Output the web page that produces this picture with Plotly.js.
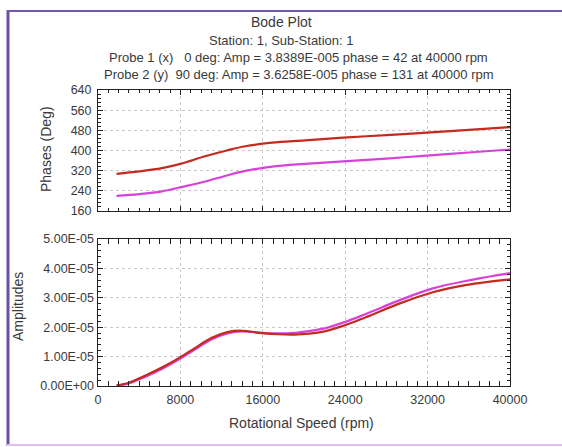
<!DOCTYPE html>
<html><head><meta charset="utf-8">
<script src="https://cdn.plot.ly/plotly-3.0.1.min.js"></script>
<style>html,body{margin:0;padding:0;background:#fff}#chart{width:562px;height:447px}</style>
</head><body><div id="chart"></div>
<script>
// Phase data (top panel)
const rpmPhase = [1800, 4000, 6200, 8000, 10400, 12500, 14300, 16900, 20100, 23800, 28000, 31900, 36000, 40000];
const phaseProbe1 = [220, 227, 238, 254, 277, 301, 319, 336, 347, 357, 368, 380, 392, 404];
const phaseProbe2 = [307, 317, 330, 347, 377, 400, 417, 431, 440, 451, 461, 471, 482, 493];
// Amplitude data (bottom panel)
const rpmAmp = [1800, 3000, 4560, 6200, 7800, 9400, 11000, 12650, 13950, 15900, 17500, 19100, 20500, 22000, 24000, 26000, 29300, 32500, 35800, 40000];
const ampProbe1 = [0.0e-5, 0.09e-5, 0.31e-5, 0.58e-5, 0.89e-5, 1.24e-5, 1.58e-5, 1.80e-5, 1.86e-5, 1.81e-5, 1.79e-5, 1.81e-5, 1.87e-5, 1.96e-5, 2.18e-5, 2.45e-5, 2.92e-5, 3.32e-5, 3.58e-5, 3.84e-5];
const ampProbe2 = [0.02e-5, 0.11e-5, 0.35e-5, 0.63e-5, 0.94e-5, 1.29e-5, 1.63e-5, 1.84e-5, 1.88e-5, 1.80e-5, 1.76e-5, 1.75e-5, 1.78e-5, 1.86e-5, 2.07e-5, 2.34e-5, 2.81e-5, 3.19e-5, 3.44e-5, 3.63e-5];
// Tick labels
const ampTicks = [0, 1e-5, 2e-5, 3e-5, 4e-5, 5e-5];
const ampTickText = ['0.00E+00', '1.00E-05', '2.00E-05', '3.00E-05', '4.00E-05', '5.00E-05'];
const titleLines = ['Bode Plot', 'Station: 1, Sub-Station: 1',
  'Probe 1 (x)   0 deg: Amp = 3.8389E-005 phase = 42 at 40000 rpm',
  'Probe 2 (y)  90 deg: Amp = 3.6258E-005 phase = 131 at 40000 rpm'];
const yTitles = ['Phases (Deg)', 'Amplitudes'];
const xTitle = 'Rotational Speed (rpm)';

const W = 562, H = 447;
const px = v => v / W, py = v => 1 - v / H;
const red = '#c42a1e', mag = '#d940d9';
const FONT = 'Liberation Sans, Arial, sans-serif';
const TXT = '#3a3a3a';

const ln = c => ({color: c, width: 2.2, shape: 'spline', smoothing: 1});
const traces = [
  {x: rpmPhase, y: phaseProbe2, xaxis: 'x', yaxis: 'y', mode: 'lines', line: ln(red)},
  {x: rpmPhase, y: phaseProbe1, xaxis: 'x', yaxis: 'y', mode: 'lines', line: ln(mag)},
  {x: rpmAmp, y: ampProbe1, xaxis: 'x2', yaxis: 'y2', mode: 'lines', line: ln(mag)},
  {x: rpmAmp, y: ampProbe2, xaxis: 'x2', yaxis: 'y2', mode: 'lines', line: ln(red)},
  // invisible carrier so the label-only amplitude axis is drawn
  {x: rpmAmp, y: ampProbe1, xaxis: 'x2', yaxis: 'y3', mode: 'lines', line: {color: 'rgba(0,0,0,0)', width: 0}, hoverinfo: 'skip'}
];

const TICKF = {family: FONT, size: 12.5, color: TXT};
const minorT = d => ({ticks: 'inside', ticklen: 3, dtick: d, tickcolor: '#222', tickwidth: 1, showgrid: false});
const axisBase = {
  showline: true, linecolor: '#222', linewidth: 1, mirror: 'allticks',
  ticks: 'inside', ticklen: 5, tickcolor: '#222', tickmode: 'linear',
  showgrid: true, gridcolor: '#c8c8c8', griddash: 'dot', gridwidth: 1,
  zeroline: false, tickfont: TICKF
};
const xDom = [px(98), px(510)];
const yDom1 = [py(211), py(90)], yDom2 = [py(386), py(239)];
const ann = (text, x, y, size, angle) => ({text: text, x: px(x), y: py(y), xref: 'paper', yref: 'paper',
  xanchor: 'center', yanchor: 'middle', showarrow: false, textangle: angle || 0, font: {family: FONT, size: size, color: TXT}});
const layout = {
  width: W, height: H, margin: {l: 0, r: 0, t: 0, b: 0},
  paper_bgcolor: '#fff', plot_bgcolor: 'rgba(0,0,0,0)', showlegend: false,
  font: {family: FONT, color: TXT},
  xaxis: Object.assign({}, axisBase, {domain: xDom, anchor: 'y', range: [0, 40000], tick0: 0, dtick: 8000, showticklabels: false, minor: minorT(1000)}),
  yaxis: Object.assign({}, axisBase, {domain: yDom1, anchor: 'x', range: [160, 640], tick0: 160, dtick: 80, ticklabelstandoff: 3, minor: minorT(16)}),
  xaxis2: Object.assign({}, axisBase, {domain: xDom, anchor: 'y2', range: [0, 40000], tick0: 0, dtick: 8000, tickformat: 'd', ticklabelstandoff: 2, minor: minorT(1000)}),
  yaxis2: Object.assign({}, axisBase, {domain: yDom2, anchor: 'x2', range: [0, 5e-5], tick0: 0, dtick: 1e-5, showticklabels: false, minor: minorT(0.2e-5)}),
  // label-only axis for the scientific-format amplitude ticks
  yaxis3: {domain: yDom2, anchor: 'x2', overlaying: 'y2', side: 'left', range: [0, 5e-5], tickmode: 'array', tickvals: ampTicks, ticktext: ampTickText,
    ticks: '', showgrid: false, showline: false, zeroline: false, ticklabelstandoff: 3, tickfont: TICKF},
  annotations: [
    ann(titleLines[0], 281, 22, 14),
    ann(titleLines[1], 281, 40, 13),
    ann(titleLines[2], 298, 57, 13),
    ann(titleLines[3], 299, 74, 13),
    ann(yTitles[0], 46, 149, 14, -90),
    ann(yTitles[1], 18, 307, 14, -90),
    ann(xTitle, 301, 423, 14)
  ],
  shapes: [
    {type: 'line', xref: 'paper', yref: 'paper', x0: px(8), x1: px(8), y0: py(10), y1: py(446), line: {color: '#6b4fa6', width: 3}},
    {type: 'line', xref: 'paper', yref: 'paper', x0: px(7), x1: 1, y0: py(11), y1: py(11), line: {color: '#7457ad', width: 2}},
    {type: 'line', xref: 'paper', yref: 'paper', x0: px(7), x1: 1, y0: py(445), y1: py(445), line: {color: '#e2bdf0', width: 2}}
  ]
};
Plotly.newPlot('chart', traces, layout, {staticPlot: true, displayModeBar: false});
</script></body></html>
